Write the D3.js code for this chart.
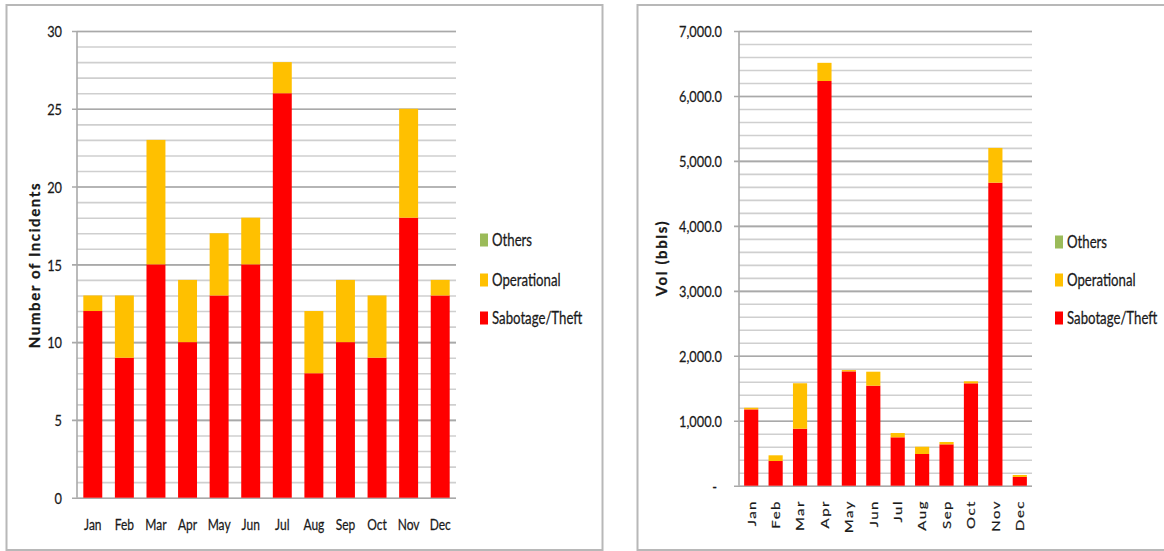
<!DOCTYPE html>
<html>
<head>
<meta charset="utf-8">
<script src="https://cdn.jsdelivr.net/npm/d3@7"></script>
<style>
  html, body { margin: 0; padding: 0; background: #fff; }
  svg { display: block; }
  text { font-family: Lato, "Open Sans", sans-serif; fill: #1a1a1a; stroke: #1a1a1a; stroke-width: 0.25px; }
</style>
</head>
<body>
<svg id="chart" width="1164" height="551"></svg>
<script>
// ---------- DATA ----------
const months = ["Jan","Feb","Mar","Apr","May","Jun","Jul","Aug","Sep","Oct","Nov","Dec"];
const seriesNames = ["Sabotage/Theft","Operational","Others"];
const legendOrder = ["Others","Operational","Sabotage/Theft"];

// Left chart: number of incidents
const incSabotage   = [12, 9, 15, 10, 13, 15, 26, 8, 10, 9, 18, 13];
const incOperational= [ 1, 4,  8,  4,  4,  3,  2, 4,  4, 4,  7,  1];
const incOthers     = [ 0, 0,  0,  0,  0,  0,  0, 0,  0, 0,  0,  0];
const incTicks      = [0, 5, 10, 15, 20, 25, 30];

// Right chart: volume (bbls)
const volSabotage   = [1175, 380, 877, 6230, 1760, 1540, 745, 488, 637, 1576, 4665, 135];
const volOperational= [  25,  88, 700,  280,   20,  215,  66, 112,  36,   31,  535,  30];
const volOthers     = [   0,   0,   0,    0,    0,    0,   0,   0,   0,    0,    0,   0];
const volTicks      = [0, 1000, 2000, 3000, 4000, 5000, 6000, 7000];

const colors = {"Sabotage/Theft": "#ff0000", "Operational": "#ffc000", "Others": "#9bbb59"};
const SX = 0.8; // horizontal squeeze of glyphs in the reference

const svg = d3.select("#chart");

// frames
svg.append("rect").attr("x", 6.5).attr("y", 5).attr("width", 596).attr("height", 545)
  .attr("fill", "none").attr("stroke", "#b8b8b8").attr("stroke-width", 2);
svg.append("rect").attr("x", 637.5).attr("y", 5).attr("width", 540).attr("height", 545)
  .attr("fill", "none").attr("stroke", "#b8b8b8").attr("stroke-width", 2);

function drawChart(cfg) {
  const g = svg.append("g");
  const x = d3.scaleBand().domain(months).range([cfg.left, cfg.right])
    .paddingInner(cfg.padIn).paddingOuter(cfg.padOut);
  const y = d3.scaleLinear().domain([0, cfg.max]).range([cfg.bottom, cfg.top]);
  const width = cfg.right - cfg.left;

  // minor gridlines
  g.append("g").attr("transform", `translate(${cfg.left},0)`)
    .call(d3.axisLeft(y).tickValues(d3.range(0, cfg.max + 1e-9, cfg.minor)).tickSize(-width).tickFormat(""))
    .call(a => a.select(".domain").remove())
    .call(a => a.selectAll("line").attr("stroke", "#cfcfcf").attr("stroke-width", 1.6));

  // major gridlines + labels
  const ax = g.append("g").attr("transform", `translate(${cfg.left},0)`)
    .call(d3.axisLeft(y).tickValues(cfg.ticks).tickSize(-width).tickPadding(0).tickFormat(cfg.fmt));
  ax.select(".domain").remove();
  ax.selectAll("line").attr("x1", -5).attr("stroke", "#a9a9a9").attr("stroke-width", 1.6);
  ax.selectAll("text")
    .attr("x", -cfg.labelGap / SX)
    .attr("dy", "0.36em")
    .attr("transform", `scale(${SX},1)`)
    .style("font-size", "16px")
    .style("font-family", "Lato, sans-serif")
    .attr("fill", "#222");
  if (cfg.zeroDash) {
    ax.selectAll(".tick").filter(d => d === 0).select("text").attr("x", -(cfg.labelGap + 5) / SX);
  }

  // y axis line
  g.append("line").attr("x1", cfg.left).attr("x2", cfg.left)
    .attr("y1", cfg.top).attr("y2", cfg.bottom)
    .attr("stroke", "#a9a9a9").attr("stroke-width", 1.6);

  // stacked bars
  const rows = months.map((m, i) => ({
    month: m,
    "Sabotage/Theft": cfg.data[0][i],
    "Operational": cfg.data[1][i],
    "Others": cfg.data[2][i]
  }));
  const stacked = d3.stack().keys(seriesNames)(rows);
  g.selectAll("g.series").data(stacked).join("g")
    .attr("class", "series")
    .attr("fill", d => colors[d.key])
    .selectAll("rect").data(d => d).join("rect")
    .attr("x", d => x(d.data.month))
    .attr("width", x.bandwidth())
    .attr("y", d => y(d[1]))
    .attr("height", d => Math.max(0, y(d[0]) - y(d[1])));

  // x labels
  if (cfg.rotateX) {
    g.selectAll("text.xl").data(months).join("text")
      .attr("class", "xl")
      .attr("transform", d => `translate(${x(d) + x.bandwidth() / 2},${cfg.xLabelY}) rotate(-90) scale(1,${SX})`)
      .attr("text-anchor", "end")
      .attr("dy", "0.36em")
      .style("font-size", "15px")
      .style("letter-spacing", "1.5px")
      .text(d => d);
  } else {
    g.selectAll("text.xl").data(months).join("text")
      .attr("class", "xl")
      .attr("transform", d => `translate(${x(d) + x.bandwidth() / 2},${cfg.xLabelY}) scale(${SX},1)`)
      .attr("text-anchor", "middle")
      .style("font-size", "15px")
      .text(d => d);
  }

  // y title
  g.append("text")
    .attr("transform", `translate(${cfg.titleX},${cfg.titleY}) rotate(-90)`)
    .attr("text-anchor", "middle")
    .attr("dy", "0.36em")
    .style("font-size", "15px")
    .style("font-weight", "bold")
    .style("letter-spacing", "1.6px")
    .attr("fill", "#000")
    .style("stroke", "#000")
    .text(cfg.title);

  // legend
  const lg = g.append("g");
  legendOrder.forEach((name, i) => {
    const cy = cfg.legendY[i];
    lg.append("rect").attr("x", cfg.legendX).attr("y", cy - 6.5)
      .attr("width", 8).attr("height", 13).attr("fill", colors[name]);
    lg.append("text")
      .attr("transform", `translate(${cfg.legendX + 12},${cy}) scale(${SX},1)`)
      .attr("dy", "0.38em")
      .style("font-size", "16.5px")
      .text(name);
  });
}

drawChart({
  left: 77, right: 456, top: 31, bottom: 497.7,
  padIn: 0.4, padOut: 0.2,
  max: 30, minor: 1, ticks: incTicks,
  fmt: d3.format("d"), labelGap: 15,
  data: [incSabotage, incOperational, incOthers],
  rotateX: false, xLabelY: 530,
  title: "Number of Incidents", titleX: 35, titleY: 265,
  legendX: 480, legendY: [240, 280, 318]
});

const volFmt = d => d === 0 ? "-" : d3.format(",.1f")(d);
drawChart({
  left: 739, right: 1032, top: 31, bottom: 485.7,
  padIn: 0.42, padOut: 0.21,
  max: 7000, minor: 200, ticks: volTicks,
  fmt: volFmt, labelGap: 17, zeroDash: true,
  data: [volSabotage, volOperational, volOthers],
  rotateX: true, xLabelY: 500,
  title: "Vol (bbls)", titleX: 662, titleY: 258,
  legendX: 1055, legendY: [242, 280, 318]
});
</script>
</body>
</html>
